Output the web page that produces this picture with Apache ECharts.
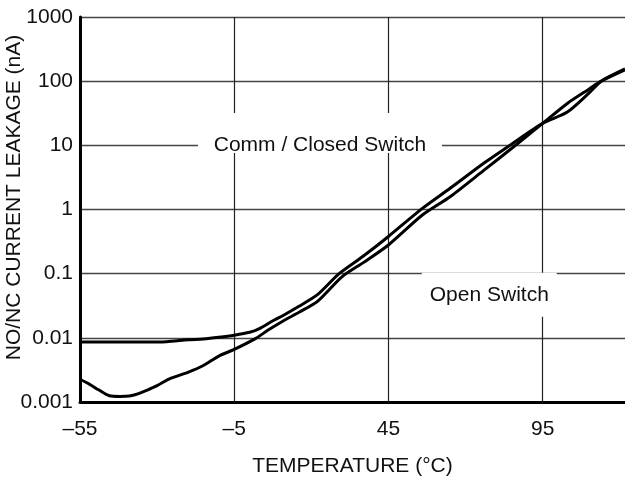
<!DOCTYPE html>
<html>
<head>
<meta charset="utf-8">
<script src="https://cdn.jsdelivr.net/npm/echarts@6/dist/echarts.min.js"></script>
<style>
html,body{margin:0;padding:0;background:#fff;}
#chart{width:625px;height:482px;}
</style>
</head>
<body>
<div id="chart"></div>
<script>
// Temperature (°C) / leakage (nA)
var closedTemp = [-55, -45, -35, -27, -20, -15, -10, -5, 0, 3, 8, 11, 16, 22, 29, 37, 45, 56, 65, 76, 85, 95, 103, 110, 114, 121.7];
var closedLeak = [0.0086, 0.0086, 0.0086, 0.0087, 0.0093, 0.0096, 0.0102, 0.011, 0.0122, 0.0138, 0.019, 0.0225, 0.031, 0.047, 0.1, 0.19, 0.38, 1.04, 2.14, 5.3, 10.5, 22, 33, 65, 100, 155];
var openTemp = [-55, -52, -49, -45.5, -42, -39, -36, -30, -26, -20, -15, -10, -5, 2, 6, 11, 16, 22, 30, 37, 45, 56, 65, 76, 85, 95, 103, 110, 114, 121.7];
var openLeak = [0.00226, 0.0019, 0.00155, 0.00125, 0.00122, 0.00124, 0.00135, 0.0018, 0.0023, 0.0029, 0.0037, 0.0052, 0.0066, 0.0098, 0.0132, 0.0185, 0.025, 0.037, 0.09, 0.15, 0.28, 0.82, 1.58, 4.1, 9, 22, 45, 75, 100, 150];

var xTicks = [-55, -5, 45, 95];
var xTickLabels = ['–55', '–5', '45', '95'];
var yTickLabels = ['0.001', '0.01', '0.1', '1', '10', '100', '1000'];

// annotation text (anchored in data coordinates) and the white box behind it
var labelTexts = ['Comm / Closed Switch', 'Open Switch'];
var labelTemp = [22.8, 77.7];
var labelLeak = [10.1, 0.0466];
var boxTemp = [22.8, 77.7];
var boxLeak = [15.6, 0.047];
var boxSize = [[244, 40], [135, 44]];

function pairs(xs, ys) { return xs.map(function (x, i) { return [x, ys[i]]; }); }

var FONT = 'Liberation Sans, Arial, Helvetica, sans-serif';
var chart = echarts.init(document.getElementById('chart'), null, {renderer: 'canvas'});

var lineStyle = {color: '#000', width: 3};

var markData = [];
labelTexts.forEach(function (t, i) {
  markData.push({
    coord: [boxTemp[i], boxLeak[i]],
    symbol: 'rect',
    symbolSize: boxSize[i],
    itemStyle: {color: '#fff'},
    label: {show: false}
  });
});
labelTexts.forEach(function (t, i) {
  markData.push({
    coord: [labelTemp[i], labelLeak[i]],
    symbol: 'circle',
    symbolSize: 1,
    itemStyle: {color: 'rgba(0,0,0,0)'},
    label: {
      show: true,
      position: 'inside',
      formatter: t,
      fontSize: 21,
      color: '#111',
      fontFamily: FONT
    }
  });
});

chart.setOption({
  animation: false,
  backgroundColor: '#fff',
  textStyle: {fontFamily: FONT},
  grid: {left: 80, right: 0, top: 17, bottom: 80, containLabel: false, outerBoundsMode: 'none'},
  xAxis: {
    type: 'value',
    min: -55,
    max: 121.7,
    name: 'TEMPERATURE (°C)',
    nameLocation: 'middle',
    nameGap: 54,
    nameMoveOverlap: false,
    nameTextStyle: {fontSize: 21, color: '#111', fontFamily: FONT},
    axisLine: {show: true, onZero: false, lineStyle: {color: '#000', width: 3}},
    axisTick: {show: false, customValues: xTicks},
    axisLabel: {
      customValues: xTicks,
      margin: 17,
      fontSize: 21,
      color: '#111',
      fontFamily: FONT,
      formatter: function (v) { var i = xTicks.indexOf(v); return i >= 0 ? xTickLabels[i] : ''; }
    },
    splitLine: {show: true, lineStyle: {color: '#222', width: 1.2}}
  },
  yAxis: {
    type: 'log',
    logBase: 10,
    min: 0.001,
    max: 1000,
    name: 'NO/NC CURRENT LEAKAGE (nA)',
    nameLocation: 'middle',
    nameGap: 55,
    nameRotate: 90,
    nameMoveOverlap: false,
    nameTextStyle: {fontSize: 21, color: '#111', fontFamily: FONT, padding: [0, 0, 0, 24]},
    axisLine: {show: true, onZero: false, lineStyle: {color: '#000', width: 3}},
    axisTick: {show: false},
    axisLabel: {
      margin: 7,
      fontSize: 21,
      color: '#111',
      fontFamily: FONT,
      formatter: function (v) { var i = Math.round(Math.log10(v)) + 3; return yTickLabels[i] || ''; }
    },
    splitLine: {show: true, lineStyle: {color: '#444', width: 1.3}}
  },
  series: [
    {
      name: 'Comm / Closed Switch',
      type: 'line',
      data: pairs(closedTemp, closedLeak),
      showSymbol: false,
      symbol: 'none',
      smooth: 0.25,
      lineStyle: lineStyle,
      z: 3,
      markPoint: {
        silent: true,
        animation: false,
        data: markData
      }
    },
    {
      name: 'Open Switch',
      type: 'line',
      data: pairs(openTemp, openLeak),
      showSymbol: false,
      symbol: 'none',
      smooth: 0.25,
      lineStyle: lineStyle,
      z: 3
    }
  ]
});
</script>
</body>
</html>
